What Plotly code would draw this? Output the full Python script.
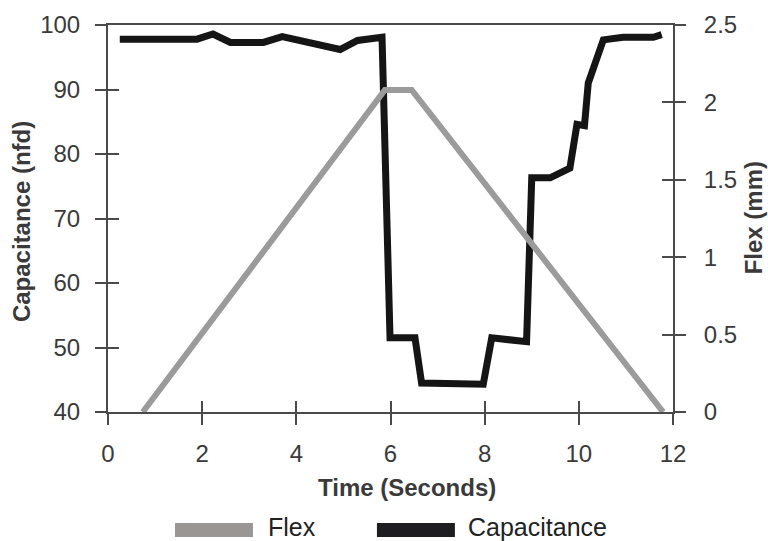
import plotly.graph_objects as go

# ---- data ----
cap_time = [0.25, 1.89, 2.23, 2.6, 3.3, 3.7, 4.93, 5.3, 5.82, 5.99, 6.52, 6.66,
            7.97, 8.15, 8.89, 9.0, 9.39, 9.81, 9.96, 10.12, 10.2, 10.52, 10.94, 11.58, 11.76]
cap_vals = [97.8, 97.8, 98.6, 97.3, 97.3, 98.2, 96.2, 97.6, 98.1, 51.5, 51.5, 44.5,
            44.3, 51.5, 50.9, 76.3, 76.3, 77.8, 84.6, 84.4, 91.0, 97.7, 98.1, 98.1, 98.5]
flex_time = [0.74, 5.88, 6.45, 11.79]
flex_vals = [0.0, 2.08, 2.08, 0.0]

x_ticks = [0, 2, 4, 6, 8, 10, 12]
cap_ticks = [40, 50, 60, 70, 80, 90, 100]
flex_ticks = [0, 0.5, 1, 1.5, 2, 2.5]
flex_tick_text = ["0", "0.5", "1", "1.5", "2", "2.5"]

FONT = "Liberation Sans, Arial, sans-serif"
AX = "#4a4a4a"
TXT = "#3a3a3a"
FLEX_C = "#9b9b9b"
CAP_C = "#151515"

fig = go.Figure()
fig.add_trace(go.Scatter(x=flex_time, y=flex_vals, mode="lines", name="Flex",
                         line=dict(color=FLEX_C, width=6), yaxis="y2", showlegend=False))
fig.add_trace(go.Scatter(x=cap_time, y=cap_vals, mode="lines", name="Capacitance",
                         line=dict(color=CAP_C, width=7), showlegend=False))
# empty helper traces so the inner-tick overlay axes get drawn
fig.add_trace(go.Scatter(x=[], y=[], xaxis="x2", yaxis="y3", showlegend=False,
                         hoverinfo="skip"))
fig.add_trace(go.Scatter(x=[], y=[], xaxis="x2", yaxis="y4", showlegend=False,
                         hoverinfo="skip"))

tickfont = dict(family=FONT, size=24, color=TXT)
common = dict(showgrid=False, zeroline=False, linecolor=AX, linewidth=2,
              tickcolor=AX, tickwidth=2, ticklen=11)

fig.update_layout(
    width=768, height=541,
    margin=dict(l=108, r=95, t=25, b=129),
    paper_bgcolor="white", plot_bgcolor="white",
    showlegend=False,
    xaxis=dict(range=[0, 12], tickvals=x_ticks, ticks="outside", showline=True,
               mirror=True, tickfont=tickfont, ticklabelstandoff=8, **common),
    xaxis2=dict(range=[0, 12], tickvals=x_ticks, ticks="inside", overlaying="x",
                anchor="y", side="bottom", showticklabels=False, showline=False,
                **common),
    yaxis=dict(range=[40, 100], tickvals=cap_ticks, ticks="outside", showline=True,
               tickfont=tickfont, ticklabelstandoff=10, **common),
    yaxis3=dict(range=[40, 100], tickvals=cap_ticks, ticks="inside", overlaying="y",
                anchor="x", side="left", showticklabels=False, showline=False, **common),
    yaxis2=dict(range=[0, 2.5], tickvals=flex_ticks, ticktext=flex_tick_text,
                ticks="outside", overlaying="y", side="right", anchor="x",
                showline=True, tickfont=tickfont, ticklabelstandoff=13, **common),
    yaxis4=dict(range=[0, 2.5], tickvals=flex_ticks, ticks="inside", overlaying="y",
                side="right", anchor="x", showticklabels=False, showline=False, **common),
)

title_font = dict(family=FONT, size=24, color=TXT)
bold = lambda s: "<b>" + s + "</b>"
fig.add_annotation(text=bold("Time (Seconds)"), xref="paper", yref="paper",
                   x=0.529, y=-0.194, xanchor="center", yanchor="middle",
                   showarrow=False, font=title_font)
fig.add_annotation(text=bold("Capacitance (nfd)"), xref="paper", yref="paper",
                   x=-0.152, y=0.491, xanchor="center", yanchor="middle",
                   textangle=-90, showarrow=False, font=title_font)
fig.add_annotation(text=bold("Flex (mm)"), xref="paper", yref="paper",
                   x=1.142, y=0.501, xanchor="center", yanchor="middle",
                   textangle=-90, showarrow=False, font=title_font)

# manual legend
legend_items = [("Flex", "#9a9693", 0.1186, 0.2566, 0.281),
                ("Capacitance", "#1e1e22", 0.476, 0.614, 0.635)]
for name, col, x0, x1, xt in legend_items:
    fig.add_shape(type="rect", xref="paper", yref="paper", x0=x0, x1=x1,
                  y0=-0.323, y1=-0.287, fillcolor=col, line=dict(width=0))
    fig.add_annotation(text=name, xref="paper", yref="paper", x=xt, y=-0.298,
                       xanchor="left", yanchor="middle", showarrow=False,
                       borderpad=0,
                       font=dict(family=FONT, size=25, color="#222222"))

fig.write_html("out.html")
